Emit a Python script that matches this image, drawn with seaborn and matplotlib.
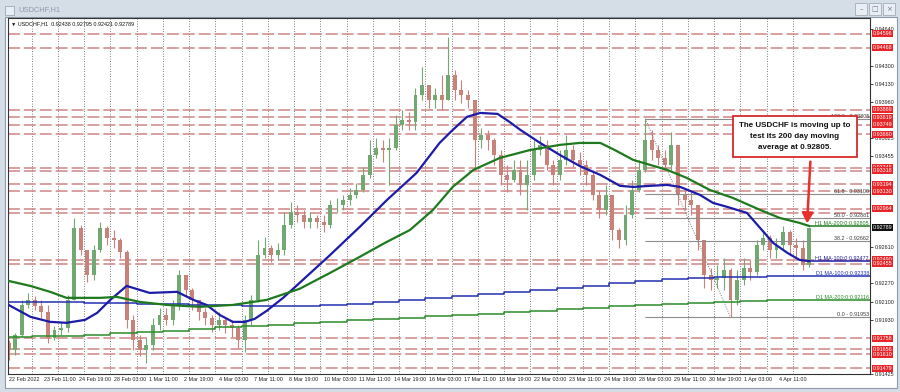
import numpy as np
import pandas as pd
import matplotlib
matplotlib.use("Agg")
import matplotlib.pyplot as plt
import seaborn as sns
from matplotlib.patches import Rectangle

# ---------------- data ----------------
symbol = "USDCHF,H1"
header_ohlc = ["0.92438", "0.92795", "0.92421", "0.92789"]

step_bars = 6          # each drawn candle = 6 hourly bars
first_open = 0.91715
closes = [
    0.91650, 0.91790, 0.92069, 0.92116, 0.92060, 0.92004, 0.91762, 0.91836, 0.91855, 0.92116,
    0.92787, 0.92582, 0.92349, 0.92582, 0.92787, 0.92694, 0.92675, 0.92563, 0.91930, 0.91743,
    0.91650, 0.91697, 0.91883, 0.91976, 0.91930, 0.92069, 0.92349, 0.92209, 0.92116, 0.92004,
    0.91948, 0.91883, 0.91930, 0.91883, 0.91855, 0.91743, 0.91930, 0.92116, 0.92535, 0.92601,
    0.92535, 0.92582, 0.92815, 0.92936, 0.92908, 0.92843, 0.92880, 0.92843, 0.92815, 0.93001,
    0.93001, 0.93048, 0.93095, 0.93141, 0.93281, 0.93467, 0.93533, 0.93514, 0.93533, 0.93747,
    0.93794, 0.93775, 0.94027, 0.94120, 0.93980, 0.94027, 0.93980, 0.94213, 0.94073, 0.94027,
    0.93980, 0.93607, 0.93654, 0.93607, 0.93467, 0.93281, 0.93236, 0.93328, 0.93188, 0.93281,
    0.93514, 0.93561, 0.93374, 0.93281, 0.93421, 0.93514, 0.93421, 0.93374, 0.93281, 0.93095,
    0.92955, 0.93095, 0.92768, 0.92675, 0.92908, 0.93141, 0.93328, 0.93607, 0.93514, 0.93439,
    0.93374, 0.93561, 0.93095, 0.93048, 0.93001, 0.92675, 0.92349, 0.92302, 0.92321, 0.92396,
    0.92116, 0.92302, 0.92414, 0.92377, 0.92629, 0.92694, 0.92582, 0.92629, 0.92750, 0.92629,
    0.92601, 0.92438, 0.92789]
highs = [
    0.91743, 0.91808, 0.92116, 0.92181, 0.92153, 0.92116, 0.92069, 0.91874, 0.91911, 0.92163,
    0.92880, 0.92815, 0.92582, 0.92629, 0.92843, 0.92806, 0.92768, 0.92694, 0.92582, 0.91976,
    0.91790, 0.91762, 0.91948, 0.92041, 0.92041, 0.92116, 0.92396, 0.92349, 0.92228, 0.92116,
    0.92041, 0.91976, 0.92004, 0.91948, 0.91930, 0.91883, 0.91976, 0.92163, 0.92675, 0.92703,
    0.92629, 0.92647, 0.92936, 0.93029, 0.93001, 0.92955, 0.92936, 0.92908, 0.92908, 0.93048,
    0.93067, 0.93095, 0.93160, 0.93206, 0.93354, 0.93607, 0.93626, 0.93607, 0.93626, 0.93840,
    0.93887, 0.93868, 0.94092, 0.94288, 0.94120, 0.94092, 0.94213, 0.94567, 0.94260, 0.94166,
    0.94073, 0.93980, 0.93719, 0.93700, 0.93626, 0.93514, 0.93374, 0.93421, 0.93421, 0.93421,
    0.93607, 0.93644, 0.93607, 0.93421, 0.93514, 0.93654, 0.93561, 0.93495, 0.93421, 0.93328,
    0.93141, 0.93188, 0.93095, 0.92787, 0.93001, 0.93236, 0.93421, 0.93805, 0.93700, 0.93561,
    0.93514, 0.93682, 0.93561, 0.93141, 0.93123, 0.93001, 0.92675, 0.92414, 0.92442, 0.92507,
    0.92414, 0.92396, 0.92507, 0.92489, 0.92675, 0.92768, 0.92722, 0.92694, 0.92806, 0.92768,
    0.92694, 0.92675, 0.92795]
lows = [
    0.91557, 0.91603, 0.91771, 0.92041, 0.92023, 0.91948, 0.91715, 0.91743, 0.91790, 0.91818,
    0.92116, 0.92535, 0.92284, 0.92302, 0.92563, 0.92629, 0.92601, 0.92507, 0.91855, 0.91650,
    0.91594, 0.91529, 0.91650, 0.91836, 0.91883, 0.91883, 0.92023, 0.92153, 0.92023, 0.91930,
    0.91883, 0.91818, 0.91836, 0.91808, 0.91771, 0.91669, 0.91631, 0.91883, 0.92097, 0.92507,
    0.92470, 0.92489, 0.92535, 0.92787, 0.92843, 0.92787, 0.92787, 0.92787, 0.92750, 0.92787,
    0.92936, 0.92955, 0.93001, 0.93067, 0.93123, 0.93253, 0.93439, 0.93402, 0.93188, 0.93514,
    0.93700, 0.93700, 0.93700, 0.93980, 0.93906, 0.93906, 0.93887, 0.93980, 0.93980, 0.93952,
    0.93906, 0.93328, 0.93533, 0.93514, 0.93374, 0.93188, 0.93123, 0.93216, 0.93095, 0.92955,
    0.93236, 0.93467, 0.93328, 0.93188, 0.93236, 0.93374, 0.93354, 0.93281, 0.93188, 0.93048,
    0.92880, 0.92908, 0.92675, 0.92601, 0.92629, 0.92880, 0.93123, 0.93309, 0.93421, 0.93374,
    0.93328, 0.93328, 0.93001, 0.92955, 0.92908, 0.92582, 0.92228, 0.92209, 0.92228, 0.92209,
    0.91953, 0.92069, 0.92256, 0.92302, 0.92349, 0.92582, 0.92507, 0.92507, 0.92582, 0.92535,
    0.92507, 0.92396, 0.92421]

# hourly moving averages (bar index, value)
ma100_bar = [0, 20, 38, 53, 70, 81, 93, 108, 129, 154, 169, 181, 193, 205, 216, 225, 236, 251,
             266, 294, 321, 346, 373, 394, 406, 419, 431, 447, 458, 468, 486, 504, 522, 541,
             559, 571, 586, 602, 614, 632, 644, 657, 675, 687, 699, 712, 723, 732]
ma100_val = [0.92069, 0.91958, 0.91911, 0.91902, 0.91930, 0.91995, 0.92116, 0.92246, 0.92181,
             0.92191, 0.92116, 0.92069, 0.91976, 0.91911, 0.91911, 0.91939, 0.92014, 0.92135,
             0.92274, 0.92535, 0.92796, 0.93048, 0.93300, 0.93579, 0.93700, 0.93822, 0.93859,
             0.93850, 0.93775, 0.93700, 0.93579, 0.93467, 0.93365, 0.93281, 0.93179, 0.93169,
             0.93179, 0.93188, 0.93169, 0.93095, 0.93020, 0.92983, 0.92927, 0.92787, 0.92647,
             0.92554, 0.92489, 0.92477]
ma200_bar = [0, 20, 38, 53, 84, 99, 120, 145, 175, 205, 236, 266, 294, 321, 344, 367, 388, 406,
             425, 449, 477, 504, 522, 541, 554, 571, 602, 620, 641, 662, 687, 705, 723, 732]
ma200_val = [0.92293, 0.92246, 0.92191, 0.92135, 0.92135, 0.92144, 0.92097, 0.92069, 0.92051,
             0.92069, 0.92116, 0.92219, 0.92368, 0.92517, 0.92647, 0.92768, 0.92955, 0.93169,
             0.93328, 0.93439, 0.93514, 0.93561, 0.93579, 0.93579, 0.93514, 0.93421, 0.93328,
             0.93253, 0.93141, 0.93067, 0.92955, 0.92880, 0.92834, 0.92805]

# daily moving averages (one value per trading day)
day_start_bar = [0] + [21 + 24 * j for j in range(30)]
d1_ma100 = [0.92097, 0.92097, 0.92093, 0.92088, 0.92083, 0.92079, 0.92074, 0.92069, 0.92065,
            0.92060, 0.92060, 0.92060, 0.92069, 0.92079, 0.92097, 0.92116, 0.92135, 0.92153,
            0.92172, 0.92191, 0.92209, 0.92228, 0.92247, 0.92274, 0.92293, 0.92312, 0.92321,
            0.92326, 0.92330, 0.92335, 0.92338]
d1_ma200 = [0.91771, 0.91776, 0.91780, 0.91790, 0.91808, 0.91818, 0.91827, 0.91846, 0.91864,
            0.91874, 0.91883, 0.91902, 0.91911, 0.91925, 0.91939, 0.91948, 0.91962, 0.91972,
            0.91986, 0.91999, 0.92013, 0.92027, 0.92041, 0.92055, 0.92069, 0.92079, 0.92088,
            0.92097, 0.92107, 0.92111, 0.92116]

ma_labels = {"H1 MA-200:0:0.92805": 0.92805, "H1 MA-100:0:0.92477": 0.92477,
             "D1 MA-100:0:0.92338": 0.92338, "D1 MA-200:0:0.92116": 0.92116}

red_levels = [0.94596, 0.94468, 0.93889, 0.93819, 0.93749, 0.93660, 0.93348, 0.93318, 0.93194,
              0.93130, 0.92964, 0.92930, 0.92490, 0.92455, 0.91758, 0.91656, 0.91610, 0.91479]
red_labels = [0.94596, 0.94468, 0.93889, 0.93819, 0.93749, 0.93660, 0.93348, 0.93318, 0.93194,
              0.93130, 0.92964, 0.92490, 0.92455, 0.91758, 0.91656, 0.91610, 0.91479]
last_price = 0.92789

fib_high_bar, fib_low_bar = 582, 660
fib_names = ["100.0", "61.8", "50.0", "38.2", "0.0"]
fib_levels = [0.93805, 0.93100, 0.92881, 0.92662, 0.91953]

y_ticks = [0.94640, 0.94300, 0.94130, 0.93960, 0.93625, 0.93455, 0.92610, 0.92270, 0.92100,
           0.91930, 0.91425]
x_tick_labels = ["22 Feb 2022", "23 Feb 11:00", "24 Feb 19:00", "28 Feb 03:00", "1 Mar 11:00",
                 "2 Mar 19:00", "4 Mar 03:00", "7 Mar 11:00", "8 Mar 19:00", "10 Mar 03:00",
                 "11 Mar 11:00", "14 Mar 19:00", "16 Mar 03:00", "17 Mar 11:00", "18 Mar 19:00",
                 "22 Mar 03:00", "23 Mar 11:00", "24 Mar 19:00", "28 Mar 03:00", "29 Mar 11:00",
                 "30 Mar 19:00", "1 Apr 03:00", "4 Apr 11:00"]
bars_per_label = 32

note = "The USDCHF is moving up to\ntest its 200 day moving\naverage at 0.92805."

# ---------------- style ----------------
sns.set_theme(style="white")
plt.rcParams["font.family"] = ["Liberation Sans", "DejaVu Sans"]

W, H = 900, 392
fig = plt.figure(figsize=(9, 3.92), dpi=100, facecolor="#d5dde7")
def fx(x): return x / W
def fy(y): return 1 - y / H

# window chrome
fig.patches.append(Rectangle((fx(5), fy(388)), fx(897) - fx(5), fy(17) - fy(388),
                             transform=fig.transFigure, fc="white", ec="#8d9aab", lw=0.8, zorder=-1))
fig.patches.append(Rectangle((fx(5), fy(15)), fx(9), fy(6) - fy(15), transform=fig.transFigure,
                             fc="#e8eef5", ec="#9aa8b8", lw=0.6, zorder=-1))
fig.text(fx(18), fy(10), symbol, fontsize=5.4, color="#8b9aae", va="center")
for i, g in enumerate(["\u2013", "\u25a1", "\u00d7"]):
    x0 = 855 + i * 14
    fig.patches.append(Rectangle((fx(x0), fy(15)), fx(12), fy(3) - fy(15), transform=fig.transFigure,
                                 fc="#e9eef4", ec="#a2adbb", lw=0.6, zorder=-1))
    fig.text(fx(x0 + 6), fy(9), g, fontsize=5, color="#6b7888", ha="center", va="center",
             family=["DejaVu Sans"])

ax = fig.add_axes([fx(8), fy(374), (870 - 8) / W, (374 - 18) / H])
ax.set_facecolor("white")
x_left, x_right = -0.5, 787.5
ax.set_xlim(x_left, x_right)
ax.set_ylim(0.91426, 0.94744)

# grid: day boundaries
ax.vlines(day_start_bar[1:], 0.91426, 0.94744, colors="#555555", linestyles=(0, (1, 2)),
          lw=0.6, zorder=0.5)

# red S/R dashed lines
ax.hlines(red_levels, x_left, x_right, colors="#d08585", linestyles=(0, (7.8, 2.6)),
          lw=1.1, zorder=1)

# candles
o = np.array([first_open] + closes[:-1])
c = np.array(closes)
hi = np.array(highs)
lo = np.array(lows)
bars = np.arange(len(c)) * step_bars
up = c >= o
cols = np.where(up, "#72a872", "#c7837a")
ax.vlines(bars, lo, hi, colors=cols, lw=0.8, zorder=2)
body = np.maximum(np.abs(c - o), 0.00003)
ax.bar(bars, body, bottom=np.minimum(o, c), width=3.6, color=cols, lw=0, zorder=2.1)

# daily MAs (step lines)
dx = day_start_bar + [x_right]
sns.lineplot(x=dx, y=d1_ma100 + [d1_ma100[-1]], ax=ax, color="#2230b0", lw=1.1,
             drawstyle="steps-post", estimator=None, zorder=3)
sns.lineplot(x=dx, y=d1_ma200 + [d1_ma200[-1]], ax=ax, color="#2a8c2a", lw=1.1,
             drawstyle="steps-post", estimator=None, zorder=3)

# hourly MAs
sns.lineplot(x=ma100_bar, y=ma100_val, ax=ax, color="#1c1ca8", lw=1.6, estimator=None, zorder=3.5)
sns.lineplot(x=ma200_bar, y=ma200_val, ax=ax, color="#1f7a1f", lw=1.6, estimator=None, zorder=3.5)
ax.hlines(ma100_val[-1], ma100_bar[-1], x_right, colors="#1c1ca8", lw=1.1, zorder=3.5)
ax.hlines(ma200_val[-1], ma200_bar[-1], x_right, colors="#1f7a1f", lw=1.1, zorder=3.5)

ma_cols = ["#1f7a1f", "#1c1ca8", "#2230b0", "#2a8c2a"]
for (txt, v), col in zip(ma_labels.items(), ma_cols):
    ax.text(x_right - 1, v, txt, fontsize=3.9, color=col, ha="right", va="bottom", zorder=4)

# fibonacci
ax.hlines(fib_levels, fib_high_bar, x_right, colors="#8c8c8c", lw=0.8, zorder=2.5)
ax.plot([fib_high_bar, fib_low_bar], [fib_levels[0], fib_levels[-1]], color="#7a7a7a",
        lw=0.7, ls=(0, (1, 1.5)), zorder=2.5)
for n, v in zip(fib_names, fib_levels):
    ax.text(x_right - 1, v, f"{n} - {v:.5f}", fontsize=3.9, color="#3a3a3a", ha="right",
            va="bottom", zorder=4)

# axes / ticks
ax.yaxis.tick_right()
ax.set_yticks(y_ticks)
ax.set_yticklabels([f"{v:.5f}" for v in y_ticks], fontsize=3.9, color="#222222")
ax.set_xticks(np.arange(len(x_tick_labels)) * bars_per_label)
ax.set_xticklabels(x_tick_labels, fontsize=3.9, color="#222222")
for lab in ax.get_xticklabels():
    lab.set_ha("left")
ax.tick_params(axis="y", length=2, width=0.6, pad=1.2, colors="#222222")
ax.tick_params(axis="x", length=1.5, width=0.6, pad=1.0, colors="#222222")
for s in ax.spines.values():
    s.set_color("#333333")
    s.set_linewidth(0.8)
ax.set_xlabel("")
ax.set_ylabel("")

# price labels on the right axis
ytr = ax.get_yaxis_transform()
for v in red_labels:
    ax.text(1.003, v, f"{v:.5f}", transform=ytr, fontsize=3.9, color="white", ha="left",
            va="center", clip_on=False, zorder=6,
            bbox=dict(boxstyle="square,pad=0.18", fc="#e8262a", ec="none"))
ax.text(1.003, last_price, f"{last_price:.5f}", transform=ytr, fontsize=3.9, color="white",
        ha="left", va="center", clip_on=False, zorder=6,
        bbox=dict(boxstyle="square,pad=0.18", fc="#111111", ec="none"))

# header
ax.text(0.003, 0.992, "\u25bc " + symbol + "  " + " ".join(header_ohlc), transform=ax.transAxes,
        fontsize=3.9, color="#111111", ha="left", va="top", zorder=6)

# annotation
ax.annotate("", xy=(730, 0.92830), xytext=(733, 0.93405),
            arrowprops=dict(arrowstyle="-|>,head_length=0.5,head_width=0.28", color="#e8302c",
                            lw=1.8, shrinkA=0, shrinkB=0), zorder=7)
fig.text(fx(795), fy(136.5), note, ha="center", va="center", fontsize=5.8, fontweight="bold",
         linespacing=1.75, color="#111111", zorder=10,
         bbox=dict(boxstyle="square,pad=0.75", fc="white", ec="#d42a2a", lw=1.3))

fig.savefig("out.png", dpi=100, facecolor=fig.get_facecolor())
